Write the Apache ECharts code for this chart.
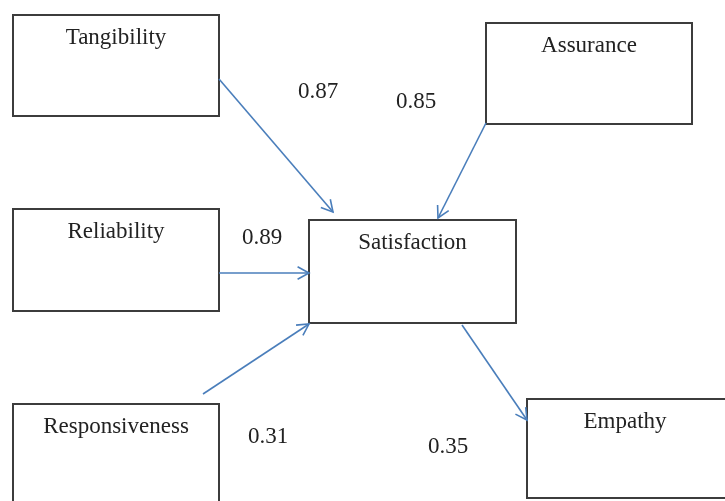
<!DOCTYPE html>
<html><head><meta charset="utf-8">
<script src="https://cdn.jsdelivr.net/npm/echarts@6/dist/echarts.min.js"></script>
<style>html,body{margin:0;padding:0;background:#fff}#c{width:725px;height:501px}</style>
</head><body><div id="c"></div>
<script>
// Diagram content
const nodeNames = ['Tangibility', 'Reliability', 'Responsiveness', 'Assurance', 'Satisfaction', 'Empathy'];
const nodeLeft = [13, 13, 13, 486, 309, 527];
const nodeTop = [15, 209, 404, 23, 220, 399];
const nodeRight = [219, 219, 219, 692, 516, 740];
const nodeBottom = [116, 311, 506, 124, 323, 498];

const arrowFrom = [[219, 79], [486, 123], [219, 273], [203, 394], [462, 325]];
const arrowTo = [[333, 212], [438, 218], [309, 273], [309, 324], [527, 420]];

const coefficients = ['0.87', '0.85', '0.89', '0.31', '0.35'];
const coefX = [318, 416, 262, 268, 448];
const coefY = [92, 102, 238, 437, 447];

const FONT = '"Liberation Serif", "Times New Roman", serif';
const boxData = nodeNames.map((n, i) => [nodeLeft[i], nodeTop[i], nodeRight[i], nodeBottom[i], n]);
const arrowData = arrowFrom.map((p, i) => [p[0], p[1], arrowTo[i][0], arrowTo[i][1]]);
const coefData = coefficients.map((c, i) => [coefX[i], coefY[i], c]);

const chart = echarts.init(document.getElementById('c'), null, {renderer: 'canvas'});
chart.setOption({
  animation: false,
  backgroundColor: '#ffffff',
  grid: {left: 0, right: 0, top: 0, bottom: 0},
  xAxis: {type: 'value', min: 0, max: 725, show: false},
  yAxis: {type: 'value', min: 0, max: 501, inverse: true, show: false},
  series: [
    {
      type: 'custom',
      data: boxData,
      clip: true,
      encode: {x: [0, 2], y: [1, 3]},
      renderItem: function (params, api) {
        const a = api.coord([api.value(0), api.value(1)]);
        const b = api.coord([api.value(2), api.value(3)]);
        const name = boxData[params.dataIndex][4];
        const a2 = api.coord([api.value(0), api.value(1)]);
        return {
          type: 'group',
          children: [
            {type: 'rect', shape: {x: a[0], y: a[1], width: b[0] - a[0], height: b[1] - a[1]},
              style: {fill: '#ffffff', stroke: '#3c3c3c', lineWidth: 2}},
            {type: 'text', x: (a[0] + (api.value(0) === 527 ? api.coord([723, 0])[0] : b[0])) / 2, y: a[1] + 23,
              style: {text: name, font: '23px ' + FONT, fill: '#222222', align: 'center', verticalAlign: 'middle'}}
          ]
        };
      }
    },
    {
      type: 'custom',
      data: arrowData,
      encode: {x: [0, 2], y: [1, 3]},
      renderItem: function (params, api) {
        const a = api.coord([api.value(0), api.value(1)]);
        const b = api.coord([api.value(2), api.value(3)]);
        const ang = Math.atan2(b[1] - a[1], b[0] - a[0]);
        const L = 13, w = 0.5;
        const h1 = [b[0] - L * Math.cos(ang - w), b[1] - L * Math.sin(ang - w)];
        const h2 = [b[0] - L * Math.cos(ang + w), b[1] - L * Math.sin(ang + w)];
        const st = {stroke: '#4a7ebb', lineWidth: 1.6, fill: 'none'};
        return {
          type: 'group',
          children: [
            {type: 'line', shape: {x1: a[0], y1: a[1], x2: b[0], y2: b[1]}, style: st},
            {type: 'polyline', shape: {points: [h1, b, h2]}, style: st}
          ]
        };
      }
    },
    {
      type: 'custom',
      data: coefData,
      encode: {x: 0, y: 1},
      renderItem: function (params, api) {
        const p = api.coord([api.value(0), api.value(1)]);
        return {type: 'text', x: p[0], y: p[1],
          style: {text: coefData[params.dataIndex][2], font: '23px ' + FONT, fill: '#222222', align: 'center', verticalAlign: 'middle'}};
      }
    }
  ]
});
</script>
</body></html>
